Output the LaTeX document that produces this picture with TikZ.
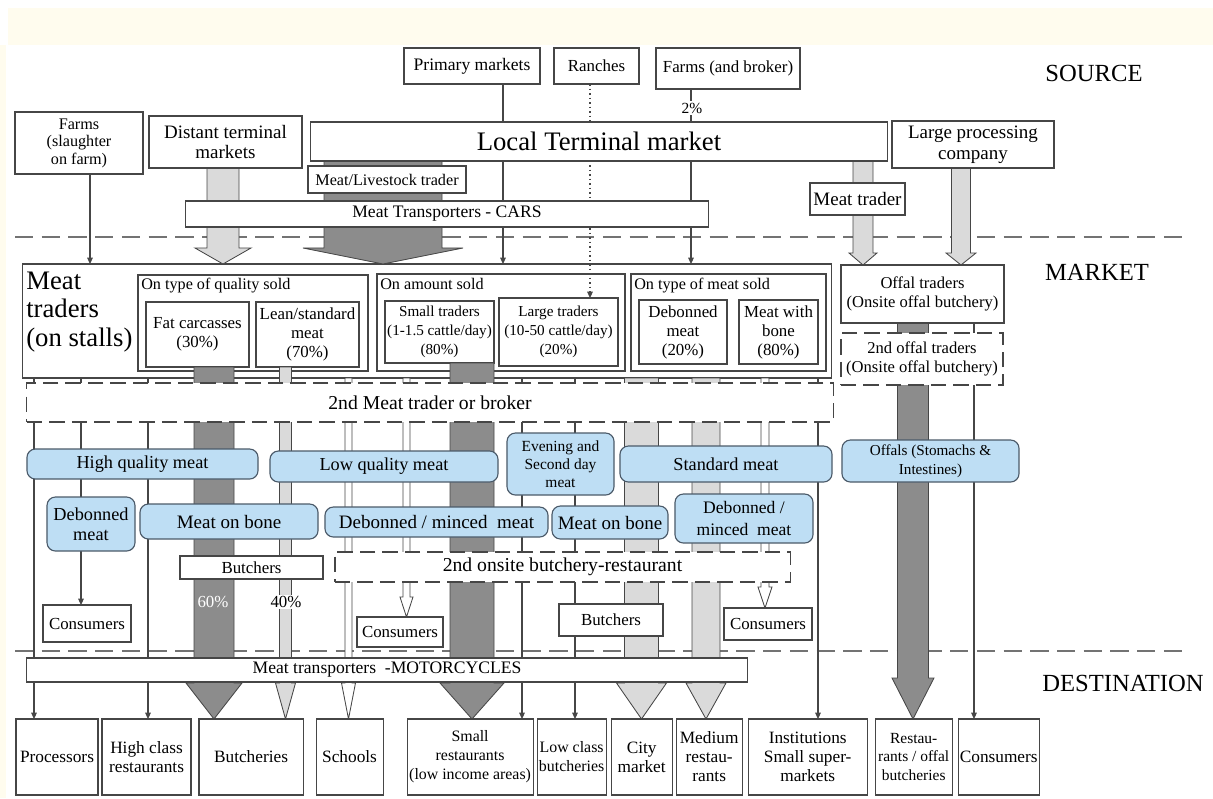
\documentclass[tikz,border=0pt]{standalone}
\usepackage{fontspec}
\setmainfont{Liberation Serif}
\usetikzlibrary{positioning,calc,arrows.meta}

\definecolor{cream}{RGB}{255,252,238}
\definecolor{edge}{RGB}{70,70,70}
\definecolor{sepgray}{RGB}{115,115,115}
\definecolor{dkgray}{RGB}{140,140,140}
\definecolor{ltgray}{RGB}{218,218,218}
\definecolor{bubble}{RGB}{190,222,244}
\definecolor{bubedge}{RGB}{75,90,105}

\pgfdeclarelayer{back}
\pgfdeclarelayer{stall}
\pgfdeclarelayer{lines}
\pgfsetlayers{back,stall,lines,main}

\newcommand{\fsz}[2]{\fontsize{#1}{#2}\selectfont}
\newcommand{\fatarrow}[7]{%
	\filldraw[#1] ($(#2 -| #4)+(-#5,0)$) -- ($(#3 -| #4)+(-#5,-#7)$)
		-- ($(#3 -| #4)+(-#6,-#7)$) -- (#3 -| #4) -- ($(#3 -| #4)+(#6,-#7)$)
		-- ($(#3 -| #4)+(#5,-#7)$) -- ($(#2 -| #4)+(#5,0)$) -- cycle;}

\tikzset{
	box/.style={draw=edge, fill=white, line width=0.8pt, inner sep=1pt, outer sep=0pt, align=center, font=\fsz{12}{13.5}},
	dbox/.style={box, dash pattern=on 11pt off 5pt},
	bub/.style={box, draw=bubedge, fill=bubble, rounded corners=6pt},
	dest/.style={box, minimum height=1.9cm, font=\fsz{12.3}{13.5}},
	lbl/.style={anchor=north west, inner sep=0pt, font=\fsz{11.5}{12}},
	zone/.style={inner sep=0pt, font=\fsz{17.5}{19}},
	ln/.style={draw=edge, line width=0.8pt, -{Triangle[length=4.5pt,width=4pt]}},
	dk/.style={fill=dkgray, draw=edge, line width=0.6pt, line join=miter},
	lt/.style={fill=ltgray, draw=edge, line width=0.6pt, line join=miter},
	wh/.style={fill=white, draw=edge, line width=0.6pt, line join=miter},
	sep/.style={draw=sepgray, line width=1pt, dash pattern=on 13pt off 6pt}
}

\begin{document}
\begin{tikzpicture}[x=0.025cm, y=-0.025cm]
	\useasboundingbox (0,0) rectangle (1213,798);
	
	\foreach \n/\x in {slf/90, pri/503, ran/590, frm/691, dst/223, ltm/383, mtr/863, lpc/961,
		pro/34, con/81, hcr/148, fat/214, lea/285.5, sch/348.5, cmi/406.5, sml/472, srl/522,
		lcb/575, cit/641.5, med/706, cri/765, ins/818, off/913, cof/974}
		\coordinate (x\n) at (\x,0);
	
	\begin{pgfonlayer}{back}
		\fill[cream] (8,8) rectangle (1213,45);
		\fill[cream] (0,45) rectangle (6,798);
		\coordinate (sepl) at (15,237);
		\coordinate (sepr) at (1183,237);
		\coordinate (sepbl) at (15,651);
		\coordinate (sepbr) at (1183,651);
		\draw[sep] (sepl) -- (sepr);
		\draw[sep] (sepbl) -- (sepbr);
	\end{pgfonlayer}
	
	\node[zone] (src) at (1094,73) {SOURCE};
	\node[zone] (mkt) at (1097,272) {MARKET};
	\node[zone] (dest) at (1123,683) {DESTINATION};
	
	\begin{pgfonlayer}{stall}
		\node[box, minimum width=20.2cm, minimum height=2.85cm] (mt) at (427,321) {};
		\node[anchor=north west, inner sep=0pt, align=left, font=\fsz{19}{20}] (mtl) at (26,272) {Meat\\traders\\(on stalls)};
		\node[box, minimum width=5.75cm, minimum height=2.4cm] (q) at (253,323) {};
		\node[lbl] (ql) at (141,278) {On type of quality sold};
		\node[box, minimum width=2.575cm, minimum height=1.625cm] (fat) at (197.5,334.5) {Fat carcasses\\(30\%)};
		\node[box, minimum width=2.575cm, minimum height=1.625cm] (lean) at (307.5,334.5) {Lean/standard\\meat\\(70\%)};
		\node[box, minimum width=6.2cm, minimum height=2.425cm] (amt) at (501,322.5) {};
		\node[lbl] (al) at (380,278) {On amount sold};
		\node[box, minimum width=2.725cm, minimum height=1.55cm, font=\fsz{10.8}{13.5}] (small) at (439.5,332) {Small traders\\(1-1.5 cattle/day)\\(80\%)};
		\node[box, minimum width=2.975cm, minimum height=1.7cm, font=\fsz{10.8}{13.5}] (large) at (558.5,332) {Large traders\\(10-50 cattle/day)\\(20\%)};
		\node[box, minimum width=4.875cm, minimum height=2.425cm] (typ) at (728.5,322.5) {};
		\node[lbl] (tl) at (634,278) {On type of meat sold};
		\node[box, minimum width=2.2cm, minimum height=1.6cm] (deb) at (683,332) {Debonned\\meat\\(20\%)};
		\node[box, minimum width=1.975cm, minimum height=1.6cm] (bone) at (778.5,332) {Meat with\\bone\\(80\%)};
	\end{pgfonlayer}
	
	\node[box, minimum width=3.4cm, minimum height=0.9cm, font=\fsz{12.5}{13.5}] (prim) at (472,66) {Primary markets};
	\node[box, minimum width=2.125cm, minimum height=0.9cm] (ranch) at (596.5,66) {Ranches};
	\node[box, minimum width=3.6cm, minimum height=1.025cm] (farmb) at (728,68.5) {Farms (and broker)};
	\node[box, minimum width=3.2cm, minimum height=1.55cm, font=\fsz{11.5}{12.5}] (farms) at (79,143) {Farms\\(slaughter\\on farm)};
	\node[box, minimum width=3.825cm, minimum height=1.3cm, font=\fsz{13.5}{14.5}] (distant) at (225.5,142) {Distant terminal\\markets};
	\node[box, minimum width=14.4cm, minimum height=0.975cm, font=\fsz{19}{20}] (ltm) at (599,141.5) {Local Terminal market};
	\node[box, minimum width=4.05cm, minimum height=1.175cm, font=\fsz{13.5}{15}] (lpc) at (973,144.5) {Large processing\\company};
	\node[box, minimum width=3.95cm, minimum height=0.675cm, font=\fsz{11.5}{12}] (mlt) at (387,179.5) {Meat/Livestock trader};
	\node[box, minimum width=13.05cm, minimum height=0.65cm, font=\fsz{12.5}{13}] (cars) at (447,214) {Meat Transporters - CARS};
	\node[box, minimum width=2.375cm, minimum height=0.8cm, font=\fsz{13.5}{14}] (mtr) at (857.5,199) {Meat trader};
	\node[fill=white, inner sep=1pt, font=\fsz{11}{12}] (pct) at (692,108) {2\%};
	
	\node[box, minimum width=4.075cm, minimum height=1.45cm, font=\fsz{11.8}{14}] (offal) at (922.5,294) {Offal traders\\(Onsite offal butchery)};
	\node[dbox, minimum width=4.05cm, minimum height=1.3cm, font=\fsz{11.8}{14}] (offal2) at (922,359) {2nd offal traders\\(Onsite offal butchery)};
	\node[dbox, minimum width=20.15cm, minimum height=0.975cm, font=\fsz{14}{15}] (broker) at (430,402.5) {2nd Meat trader or broker};
	
	\node[bub, minimum width=5.775cm, minimum height=0.75cm, font=\fsz{13}{14}] (hq) at (142.5,464) {High quality meat};
	\node[bub, minimum width=5.7cm, minimum height=0.775cm, font=\fsz{13}{14}] (lq) at (384,466.5) {Low quality meat};
	\node[bub, minimum width=2.675cm, minimum height=1.55cm, font=\fsz{11}{12.8}] (eve) at (560.5,464) {Evening and\\Second day\\meat};
	\node[bub, minimum width=5.3cm, minimum height=0.9cm, font=\fsz{13}{14}] (std) at (726,464) {Standard meat};
	\node[bub, minimum width=4.425cm, minimum height=1.05cm, font=\fsz{10.8}{13.5}] (offs) at (930.5,461) {Offals (Stomachs \&\\Intestines)};
	\node[bub, minimum width=2.2cm, minimum height=1.35cm, font=\fsz{13}{14.2}] (debl) at (91,524) {Debonned\\meat};
	\node[bub, minimum width=4.45cm, minimum height=0.875cm, font=\fsz{13.5}{14}] (bonel) at (229,521.5) {Meat on bone};
	\node[bub, minimum width=5.575cm, minimum height=0.75cm, font=\fsz{13.5}{14}] (minc) at (436.5,522) {Debonned / minced~ meat};
	\node[bub, minimum width=2.9cm, minimum height=0.825cm, font=\fsz{13.5}{14}] (bonem) at (610,522.5) {Meat on bone};
	\node[bub, minimum width=3.45cm, minimum height=1.225cm, font=\fsz{12.5}{15}] (mincr) at (744,518.5) {Debonned /\\minced~ meat};
	
	\node[box, minimum width=3.575cm, minimum height=0.575cm] (butl) at (251.5,567.5) {Butchers};
	\node[dbox, minimum width=11.375cm, minimum height=0.75cm, font=\fsz{14}{15}] (onsite) at (562.5,567) {2nd onsite butchery-restaurant};
	\node[box, minimum width=2.2cm, minimum height=0.925cm] (consl) at (87,623.5) {Consumers};
	\node[box, minimum width=2.15cm, minimum height=0.75cm] (consm) at (400,632) {Consumers};
	\node[box, minimum width=2.6cm, minimum height=0.8cm] (butm) at (611,620) {Butchers};
	\node[box, minimum width=2.2cm, minimum height=0.8cm] (consr) at (768,624) {Consumers};
	\node[box, minimum width=18cm, minimum height=0.6cm, font=\fsz{12.5}{13}] (moto) at (387,670) {Meat transporters~ -MOTORCYCLES};
	
	\node[dest, minimum width=2.05cm] (proc) at (57,757) {Processors};
	\node[dest, minimum width=2.225cm, right=0.1cm of proc] (hcr) {High class\\restaurants};
	\node[dest, minimum width=2.6cm, right=0.2cm of hcr] (butch) {Butcheries};
	\node[dest, minimum width=1.675cm, right=0.325cm of butch] (school) {Schools};
	\node[dest, minimum width=3.15cm, right=0.6cm of school, font=\fsz{11.3}{13.5}] (smr) {Small\\restaurants\\(low income areas)};
	\node[dest, minimum width=1.725cm, right=0.1cm of smr, font=\fsz{11.3}{13.5}] (lcb) {Low class\\butcheries};
	\node[dest, minimum width=1.525cm, right=0.125cm of lcb] (city) {City\\market};
	\node[dest, minimum width=1.65cm, right=0.1cm of city] (medr) {Medium\\restau-\\rants};
	\node[dest, minimum width=2.975cm, right=0.15cm of medr] (inst) {Institutions\\Small super-\\markets};
	\node[dest, minimum width=1.925cm, right=0.2cm of inst, font=\fsz{11}{13.5}] (roff) {Restau-\\rants / offal\\butcheries};
	\node[dest, minimum width=2.025cm, right=0.15cm of roff] (consd) {Consumers};
	
	\node[text=white, inner sep=0pt, font=\fsz{12}{13}] (p60) at (213,602) {60\%};
	\node[fill=white, inner sep=1pt, font=\fsz{12}{13}] (p40) at (286,602) {40\%};
	
	\begin{pgfonlayer}{lines}
		\draw[ln] (farms.south -| xslf) -- (mt.north -| xslf);
		\draw[ln] (prim.south -| xpri) -- (mt.north -| xpri);
		\draw[ln] (farmb.south -| xfrm) -- (mt.north -| xfrm);
		\draw[ln, dash pattern=on 1.2pt off 2pt] (ranch.south -| xran) -- (large.north -| xran);
		\draw[ln] (mt.south -| xpro) -- (proc.north -| xpro);
		\draw[ln] (mt.south -| xcon) -- (consl.north -| xcon);
		\draw[ln] (mt.south -| xhcr) -- (hcr.north -| xhcr);
		\draw[ln] (mt.south -| xsrl) -- (smr.north -| xsrl);
		\draw[ln] (mt.south -| xlcb) -- (lcb.north -| xlcb);
		\draw[ln] (mt.south -| xins) -- (inst.north -| xins);
		\draw[ln] (offal.south -| xcof) -- (consd.north -| xcof);
		
		\fatarrow{lt}{distant.south}{mt.north}{xdst}{16}{28}{16}
		\fatarrow{dk}{ltm.south}{mt.north}{xltm}{59}{80}{16}
		\fatarrow{lt}{ltm.south}{offal.north}{xmtr}{10}{14}{12}
		\fatarrow{lt}{lpc.south}{offal.north}{xlpc}{9.5}{15}{12}
		\fatarrow{dk}{fat.south}{butch.north}{xfat}{20}{28}{36}
		\fatarrow{lt}{lean.south}{butch.north}{xlea}{6}{10}{36}
		\fatarrow{wh}{mt.south}{school.north}{xsch}{3.5}{7}{36}
		\fatarrow{wh}{mt.south}{consm.north}{xcmi}{3.5}{6.5}{20}
		\fatarrow{dk}{small.south}{smr.north}{xsml}{22}{32}{36}
		\fatarrow{lt}{mt.south}{city.north}{xcit}{17}{25}{36}
		\fatarrow{lt}{mt.south}{medr.north}{xmed}{14}{20}{36}
		\fatarrow{wh}{mt.south}{consr.north}{xcri}{4}{7}{21}
		\fatarrow{dk}{offal.south}{roff.north}{xoff}{15.5}{21}{41}
	\end{pgfonlayer}
\end{tikzpicture}
\end{document}
